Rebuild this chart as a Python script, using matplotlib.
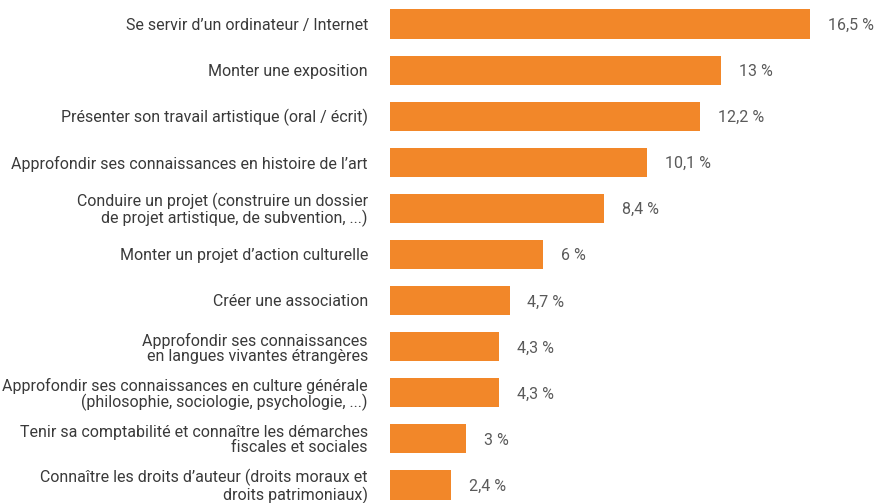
import matplotlib
matplotlib.use("Agg")
import matplotlib.pyplot as plt

categories = [
    "Se servir d\u2019un ordinateur / Internet",
    "Monter une exposition",
    "Pr\u00e9senter son travail artistique (oral / \u00e9crit)",
    "Approfondir ses connaissances en histoire de l\u2019art",
    "Conduire un projet (construire un dossier\nde projet artistique, de subvention, ...)",
    "Monter un projet d\u2019action culturelle",
    "Cr\u00e9er une association",
    "Approfondir ses connaissances\nen langues vivantes \u00e9trang\u00e8res",
    "Approfondir ses connaissances en culture g\u00e9n\u00e9rale\n(philosophie, sociologie, psychologie, ...)",
    "Tenir sa comptabilit\u00e9 et conna\u00eetre les d\u00e9marches\nfiscales et sociales",
    "Conna\u00eetre les droits d\u2019auteur (droits moraux et\ndroits patrimoniaux)",
]
values = [16.5, 13, 12.2, 10.1, 8.4, 6, 4.7, 4.3, 4.3, 3, 2.4]
value_labels = ["16,5 %", "13 %", "12,2 %", "10,1 %", "8,4 %", "6 %", "4,7 %", "4,3 %", "4,3 %", "3 %", "2,4 %"]

plt.rcParams['font.family'] = ['Roboto', 'DejaVu Sans']

fig = plt.figure(figsize=(8.79, 5.03), dpi=100)
ax = fig.add_axes([390/879, 0, 1 - 390/879, 1])
pos = list(range(len(values)))
ax.barh(pos, values, height=0.63, color="#F28729", edgecolor="none")
ax.set_xlim(0, (879 - 390) / 25.45)
ax.set_ylim(10 + 18/46.1, -24/46.1)
ax.axis("off")

for p, v, lab, cat in zip(pos, values, value_labels, categories):
    ax.text(v + 0.7, p + 0.03, lab, va="center", ha="left", fontsize=11.5, color="#5a5a5a")
    ax.text(-22/25.45, p + 0.03, cat, va="center", ha="right", fontsize=11.5,
            color="#3a3a3a", linespacing=1.0)

fig.savefig("out.png", dpi=100)
